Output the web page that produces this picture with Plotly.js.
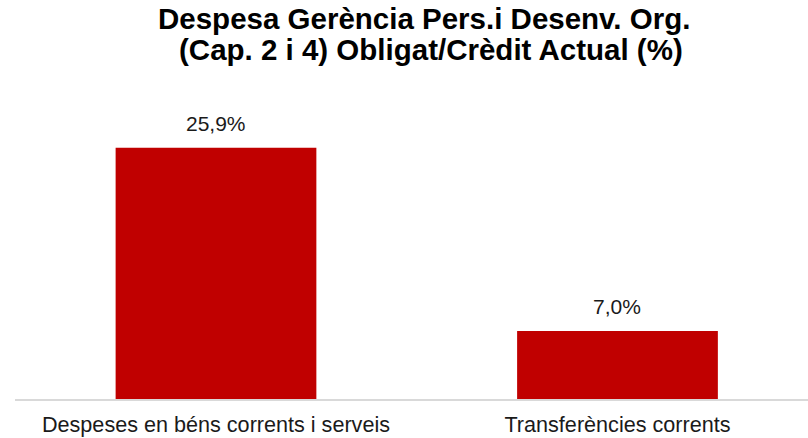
<!DOCTYPE html>
<html>
<head>
<meta charset="utf-8">
<script src="https://cdn.plot.ly/plotly-3.0.1.min.js"></script>
<style>
html,body{margin:0;padding:0;background:#fff;}
#chart{width:808px;height:438px;}
</style>
</head>
<body>
<div id="chart"></div>
<script>
const categories = ["Despeses en béns corrents i serveis", "Transferències corrents"];
const values = [25.9, 7.0];
const valueLabels = ["25,9%", "7,0%"];
const titleLines = ["Despesa Gerència Pers.i Desenv. Org.", "(Cap. 2 i 4) Obligat/Crèdit Actual (%)"];

const FONT = "Liberation Sans, Arial, sans-serif";

const trace = {
  type: "bar",
  x: categories,
  y: values,
  width: 0.5,
  marker: {color: "#c00000"},
  hoverinfo: "none"
};

const annotations = categories.map((c, i) => ({
  x: c, y: values[i], xref: "x", yref: "y",
  text: valueLabels[i], showarrow: false,
  yanchor: "bottom", yshift: 11,
  font: {family: FONT, size: 21, color: "#1a1a1a"}
}));

annotations.push({
  x: 0.525, xref: "paper", xanchor: "center",
  y: 1, yref: "paper", yanchor: "bottom", yshift: 32,
  text: titleLines[1], showarrow: false,
  font: {family: FONT, size: 29.5, color: "#000000", weight: "bold"}
});

const layout = {
  width: 808, height: 438,
  margin: {l: 15, r: 0, t: 100, b: 39},
  paper_bgcolor: "#ffffff", plot_bgcolor: "#ffffff",
  showlegend: false,
  title: {
    text: titleLines[0],
    x: 0.525, xanchor: "center",
    y: 0.981, yanchor: "top", yref: "container",
    font: {family: FONT, size: 29.5, color: "#000000", weight: "bold"}
  },
  xaxis: {
    type: "category",
    range: [-0.5006, 1.4745],
    showline: true, linecolor: "#d9d9d9", linewidth: 2,
    showgrid: false, zeroline: false, ticks: "",
    ticklabelstandoff: 5,
    tickfont: {family: FONT, size: 21.6, color: "#1a1a1a"},
    fixedrange: true
  },
  yaxis: {
    range: [0, 30.82],
    visible: false, showgrid: false, zeroline: false,
    fixedrange: true
  },
  annotations: annotations
};

Plotly.newPlot("chart", [trace], layout, {displayModeBar: false, staticPlot: true});
</script>
</body>
</html>
